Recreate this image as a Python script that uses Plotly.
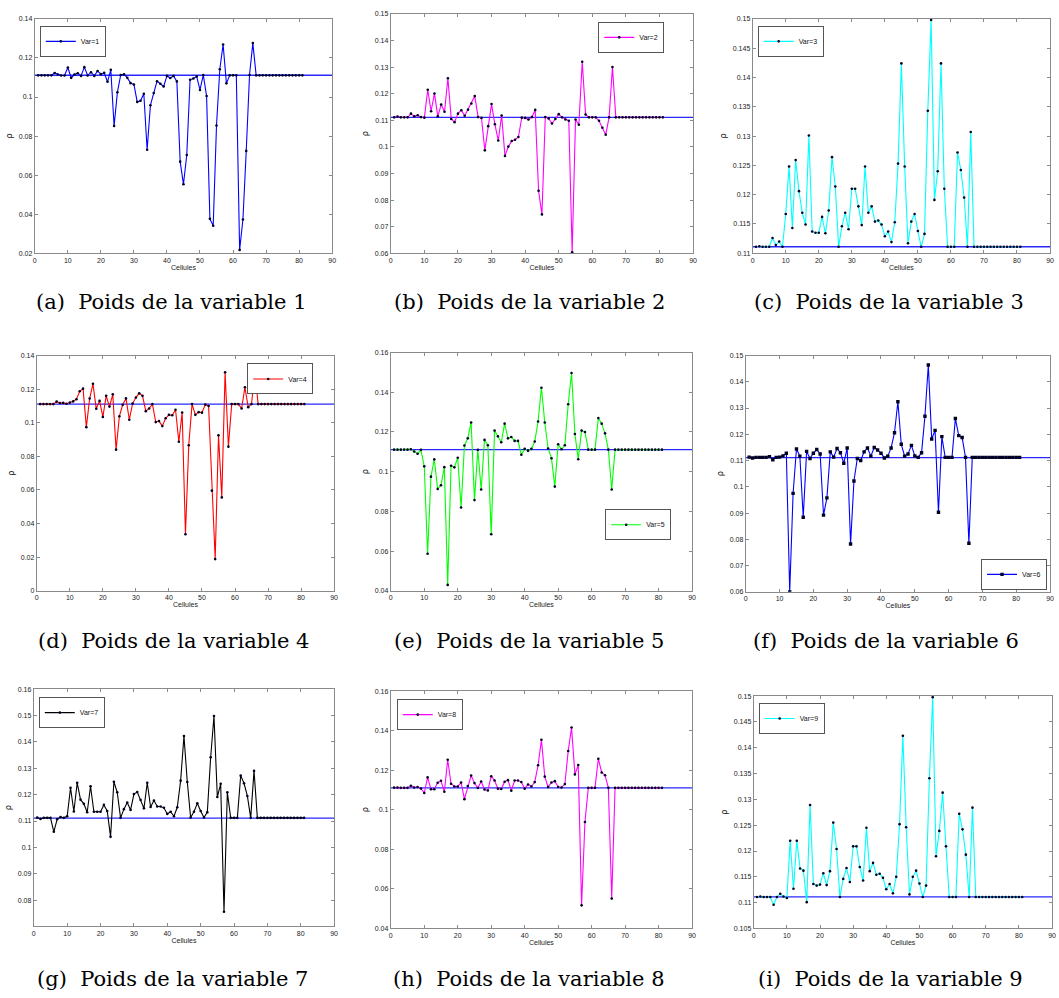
import plotly.graph_objects as go

W, H = 1059, 998

cells = list(range(1, 82))

var1 = [
    0.1111, 0.1111, 0.1111, 0.1111, 0.1111, 0.1123, 0.1115, 0.1110, 0.1110, 0.1151,
    0.1098, 0.1115, 0.1122, 0.1108, 0.1153, 0.1110, 0.1127, 0.1108, 0.1133, 0.1117,
    0.1124, 0.1078, 0.1139, 0.0852, 0.1024, 0.1113, 0.1116, 0.1098, 0.1071, 0.1064,
    0.0975, 0.0981, 0.1017, 0.0730, 0.0958, 0.1020, 0.1081, 0.1068, 0.1054, 0.1108,
    0.1097, 0.1108, 0.1080, 0.0669, 0.0553, 0.0703, 0.1088, 0.1095, 0.1105, 0.1036,
    0.1113, 0.1005, 0.0376, 0.0341, 0.0854, 0.1142, 0.1269, 0.1070, 0.1111, 0.1111,
    0.1111, 0.0217, 0.0373, 0.0724, 0.1113, 0.1276, 0.1111, 0.1111, 0.1111, 0.1111,
    0.1111, 0.1111, 0.1111, 0.1111, 0.1111, 0.1111, 0.1111, 0.1111, 0.1111, 0.1111,
    0.1111]
var2 = [
    0.1111, 0.1114, 0.1111, 0.1111, 0.1111, 0.1125, 0.1115, 0.1119, 0.1112, 0.1110,
    0.1215, 0.1134, 0.1201, 0.1115, 0.1159, 0.1132, 0.1258, 0.1105, 0.1093, 0.1125,
    0.1138, 0.1117, 0.1140, 0.1163, 0.1191, 0.1112, 0.1109, 0.0987, 0.1078, 0.1161,
    0.1085, 0.1024, 0.1118, 0.0966, 0.1001, 0.1022, 0.1027, 0.1037, 0.1110, 0.1109,
    0.1103, 0.1112, 0.1139, 0.0835, 0.0746, 0.1112, 0.1107, 0.1088, 0.1105, 0.1123,
    0.1111, 0.1103, 0.1098, 0.0604, 0.1103, 0.1083, 0.1320, 0.1122, 0.1111, 0.1111,
    0.1111, 0.1098, 0.1072, 0.1046, 0.1111, 0.1300, 0.1111, 0.1111, 0.1111, 0.1111,
    0.1111, 0.1111, 0.1111, 0.1111, 0.1111, 0.1111, 0.1111, 0.1111, 0.1111, 0.1111,
    0.1111]
var3 = [
    0.1111, 0.1112, 0.1111, 0.1111, 0.1111, 0.1126, 0.1114, 0.1120, 0.1111, 0.1167,
    0.1248, 0.1143, 0.1259, 0.1206, 0.1169, 0.1149, 0.1301, 0.1137, 0.1135, 0.1135,
    0.1162, 0.1134, 0.1173, 0.1264, 0.1214, 0.1111, 0.1146, 0.1169, 0.1141, 0.1210,
    0.1210, 0.1180, 0.1148, 0.1248, 0.1169, 0.1180, 0.1154, 0.1156, 0.1149, 0.1129,
    0.1137, 0.1119, 0.1153, 0.1253, 0.1424, 0.1248, 0.1117, 0.1154, 0.1167, 0.1138,
    0.1111, 0.1133, 0.1343, 0.1498, 0.1191, 0.1240, 0.1424, 0.1210, 0.1111, 0.1111,
    0.1111, 0.1272, 0.1242, 0.1195, 0.1111, 0.1307, 0.1111, 0.1111, 0.1111, 0.1111,
    0.1111, 0.1111, 0.1111, 0.1111, 0.1111, 0.1111, 0.1111, 0.1111, 0.1111, 0.1111,
    0.1111]
var4 = [
    0.1111, 0.1111, 0.1111, 0.1111, 0.1111, 0.1126, 0.1117, 0.1118, 0.1113, 0.1120,
    0.1127, 0.1140, 0.1187, 0.1203, 0.0974, 0.1144, 0.1232, 0.1083, 0.1130, 0.1035,
    0.1160, 0.1096, 0.1169, 0.0840, 0.1039, 0.1107, 0.1145, 0.1018, 0.1114, 0.1150,
    0.1175, 0.1160, 0.1069, 0.1085, 0.1111, 0.1004, 0.1010, 0.0980, 0.1027, 0.1047,
    0.1045, 0.1077, 0.0887, 0.1061, 0.0337, 0.0866, 0.1111, 0.1047, 0.1063, 0.1060,
    0.1108, 0.1100, 0.0596, 0.0189, 0.0925, 0.0556, 0.1300, 0.0858, 0.1111, 0.1111,
    0.1111, 0.1085, 0.1211, 0.1093, 0.1111, 0.1303, 0.1111, 0.1111, 0.1111, 0.1111,
    0.1111, 0.1111, 0.1111, 0.1111, 0.1111, 0.1111, 0.1111, 0.1111, 0.1111, 0.1111,
    0.1111]
var5 = [
    0.1111, 0.1111, 0.1111, 0.1111, 0.1111, 0.1113, 0.1102, 0.1090, 0.1110, 0.1027,
    0.0587, 0.0975, 0.1062, 0.0913, 0.0932, 0.1023, 0.0430, 0.1030, 0.1022, 0.1070,
    0.0820, 0.1132, 0.1168, 0.1248, 0.0857, 0.1110, 0.0910, 0.1160, 0.1133, 0.0685,
    0.1207, 0.1178, 0.1148, 0.1242, 0.1168, 0.1175, 0.1155, 0.1155, 0.1085, 0.1115,
    0.1105, 0.1115, 0.1152, 0.1253, 0.1423, 0.1248, 0.1117, 0.1068, 0.0925, 0.1138,
    0.1113, 0.1133, 0.1340, 0.1497, 0.1190, 0.1063, 0.1207, 0.1200, 0.1111, 0.1111,
    0.1111, 0.1270, 0.1242, 0.1193, 0.1111, 0.0910, 0.1111, 0.1111, 0.1111, 0.1111,
    0.1111, 0.1111, 0.1111, 0.1111, 0.1111, 0.1111, 0.1111, 0.1111, 0.1111, 0.1111,
    0.1111]
var6 = [
    0.1113, 0.1110, 0.1112, 0.1112, 0.1112, 0.1112, 0.1115, 0.1103, 0.1112, 0.1113,
    0.1118, 0.1128, 0.0600, 0.0975, 0.1144, 0.1117, 0.0884, 0.1135, 0.1108, 0.1128,
    0.1142, 0.1125, 0.0892, 0.0958, 0.1133, 0.1113, 0.1146, 0.1130, 0.1090, 0.1148,
    0.0782, 0.1022, 0.1108, 0.1100, 0.1133, 0.1148, 0.1117, 0.1150, 0.1140, 0.1128,
    0.1110, 0.1117, 0.1148, 0.1206, 0.1324, 0.1162, 0.1117, 0.1125, 0.1158, 0.1118,
    0.1112, 0.1130, 0.1269, 0.1464, 0.1182, 0.1215, 0.0903, 0.1191, 0.1112, 0.1112,
    0.1112, 0.1260, 0.1195, 0.1188, 0.1112, 0.0785, 0.1112, 0.1112, 0.1112, 0.1112,
    0.1112, 0.1112, 0.1112, 0.1112, 0.1112, 0.1112, 0.1112, 0.1112, 0.1112, 0.1112,
    0.1112]
var7 = [
    0.1113, 0.1108, 0.1112, 0.1112, 0.1112, 0.1059, 0.1107, 0.1115, 0.1112, 0.1118,
    0.1226, 0.1136, 0.1245, 0.1181, 0.1165, 0.1133, 0.1232, 0.1135, 0.1135, 0.1135,
    0.1161, 0.1138, 0.1040, 0.1249, 0.1209, 0.1112, 0.1145, 0.1170, 0.1142, 0.1202,
    0.1210, 0.1180, 0.1148, 0.1245, 0.1153, 0.1178, 0.1155, 0.1155, 0.1150, 0.1127,
    0.1135, 0.1118, 0.1152, 0.1253, 0.1422, 0.1248, 0.1113, 0.1135, 0.1167, 0.1138,
    0.1113, 0.1133, 0.1342, 0.1498, 0.1191, 0.1241, 0.0756, 0.1209, 0.1112, 0.1112,
    0.1112, 0.1272, 0.1243, 0.1195, 0.1112, 0.1290, 0.1112, 0.1112, 0.1112, 0.1112,
    0.1112, 0.1112, 0.1112, 0.1112, 0.1112, 0.1112, 0.1112, 0.1112, 0.1112, 0.1112,
    0.1112]
var8 = [
    0.1112, 0.1113, 0.1111, 0.1111, 0.1111, 0.1122, 0.1113, 0.1115, 0.1108, 0.1085,
    0.1164, 0.1104, 0.1104, 0.1137, 0.1147, 0.1091, 0.1253, 0.1132, 0.1118, 0.1118,
    0.1138, 0.1054, 0.1120, 0.1173, 0.1135, 0.1110, 0.1143, 0.1103, 0.1098, 0.1170,
    0.1148, 0.1107, 0.1105, 0.1142, 0.1150, 0.1097, 0.1148, 0.1148, 0.1140, 0.1107,
    0.1128, 0.1118, 0.1140, 0.1225, 0.1354, 0.1168, 0.1115, 0.1138, 0.1145, 0.1115,
    0.1113, 0.1130, 0.1297, 0.1416, 0.1179, 0.1226, 0.0517, 0.0938, 0.1111, 0.1111,
    0.1111, 0.1258, 0.1189, 0.1175, 0.1111, 0.0551, 0.1111, 0.1111, 0.1111, 0.1111,
    0.1111, 0.1111, 0.1111, 0.1111, 0.1111, 0.1111, 0.1111, 0.1111, 0.1111, 0.1111,
    0.1111]
var9 = [
    0.1111, 0.1112, 0.1111, 0.1111, 0.1111, 0.1096, 0.1111, 0.1117, 0.1112, 0.1109,
    0.1220, 0.1127, 0.1220, 0.1166, 0.1162, 0.1101, 0.1289, 0.1136, 0.1133, 0.1135,
    0.1157, 0.1134, 0.1161, 0.1255, 0.1204, 0.1111, 0.1146, 0.1167, 0.1140, 0.1209,
    0.1209, 0.1169, 0.1143, 0.1245, 0.1161, 0.1177, 0.1154, 0.1156, 0.1148, 0.1126,
    0.1136, 0.1118, 0.1150, 0.1252, 0.1423, 0.1246, 0.1116, 0.1150, 0.1162, 0.1137,
    0.1111, 0.1133, 0.1341, 0.1498, 0.1190, 0.1239, 0.1313, 0.1209, 0.1111, 0.1111,
    0.1111, 0.1272, 0.1242, 0.1193, 0.1111, 0.1284, 0.1111, 0.1111, 0.1111, 0.1111,
    0.1111, 0.1111, 0.1111, 0.1111, 0.1111, 0.1111, 0.1111, 0.1111, 0.1111, 0.1111,
    0.1111]

series = [var1, var2, var3, var4, var5, var6, var7, var8, var9]
legend_names = ["Var=1", "Var=2", "Var=3", "Var=4", "Var=5", "Var=6", "Var=7", "Var=8", "Var=9"]
captions = ["(a)  Poids de la variable 1", "(b)  Poids de la variable 2", "(c)  Poids de la variable 3",
            "(d)  Poids de la variable 4", "(e)  Poids de la variable 5", "(f)  Poids de la variable 6",
            "(g)  Poids de la variable 7", "(h)  Poids de la variable 8", "(i)  Poids de la variable 9"]
uniform_level = 1 / 9
x_range = [0, 90]
x_ticks = [0, 10, 20, 30, 40, 50, 60, 70, 80, 90]
y_ranges = [[0.02, 0.14], [0.06, 0.15], [0.11, 0.15],
            [0.0, 0.14], [0.04, 0.16], [0.06, 0.15],
            [0.07, 0.16], [0.04, 0.16], [0.105, 0.15]]
y_ticks = [
    [0.02, 0.04, 0.06, 0.08, 0.1, 0.12, 0.14],
    [0.06, 0.07, 0.08, 0.09, 0.1, 0.11, 0.12, 0.13, 0.14, 0.15],
    [0.11, 0.115, 0.12, 0.125, 0.13, 0.135, 0.14, 0.145, 0.15],
    [0, 0.02, 0.04, 0.06, 0.08, 0.1, 0.12, 0.14],
    [0.04, 0.06, 0.08, 0.1, 0.12, 0.14, 0.16],
    [0.06, 0.07, 0.08, 0.09, 0.1, 0.11, 0.12, 0.13, 0.14, 0.15],
    [0.08, 0.09, 0.1, 0.11, 0.12, 0.13, 0.14, 0.15, 0.16],
    [0.04, 0.06, 0.08, 0.1, 0.12, 0.14, 0.16],
    [0.105, 0.11, 0.115, 0.12, 0.125, 0.13, 0.135, 0.14, 0.145, 0.15],
]

# ---- styles / layout (pixel boxes of each axes: left, right, top, bottom) ----
colors = ["#0000ff", "#ff00ff", "#00ffff", "#ff0000", "#00ff00", "#0000ff", "#000000", "#ff00ff", "#00ffff"]
marker_syms = ["circle", "circle", "circle", "circle", "circle", "square", "circle", "circle", "circle"]
marker_sizes = [2.6, 2.6, 2.6, 2.6, 2.6, 3.4, 2.6, 2.6, 2.6]
boxes = [(33, 332, 15, 251), (391, 695, 10, 251), (755, 1054, 15, 251),
         (35, 334, 354, 591), (391, 694, 351, 591), (748, 1054, 354, 592),
         (32, 334, 690, 929), (391, 694, 692, 931), (756, 1056, 697, 931)]
legend_pos = [(38, 22, "left", "top"), (666, 18, "right", "top"), (760, 22, "left", "top"),
              (313, 362, "right", "top"), (673, 540, "right", "bottom"), (1051, 590, "right", "bottom"),
              (37, 698, "left", "top"), (397, 700, "left", "top"), (761, 704, "left", "top")]
caption_y = [300, 300, 300, 642, 642, 642, 982, 982, 982]

def px(x):
    return x / W

def py(y):
    return 1 - y / H

fig = go.Figure()
layout = dict(width=W, height=H, margin=dict(l=0, r=0, t=0, b=0),
              paper_bgcolor="white", plot_bgcolor="white", annotations=[])

tick_font = dict(family="Liberation Sans, Arial, sans-serif", size=7, color="#222222")
for i in range(9):
    n = i + 1
    xa = "x" if n == 1 else f"x{n}"
    ya = "y" if n == 1 else f"y{n}"
    leg = "legend" if n == 1 else f"legend{n}"
    l, r, t, b = boxes[i]
    # reference level line
    fig.add_trace(go.Scatter(x=x_range, y=[uniform_level, uniform_level], mode="lines",
                             line=dict(color="#2828ff", width=1.4), showlegend=False,
                             xaxis=xa, yaxis=ya, hoverinfo="skip"))
    fig.add_trace(go.Scatter(x=cells, y=series[i], mode="lines+markers", name=legend_names[i],
                             line=dict(color=colors[i], width=1.1),
                             marker=dict(color="#000022", size=marker_sizes[i], symbol=marker_syms[i]),
                             xaxis=xa, yaxis=ya, legend=leg, showlegend=True))
    axis_common = dict(showline=True, linecolor="#8a8a8a", linewidth=1, mirror="ticks",
                       ticks="inside", ticklen=3, tickcolor="#8a8a8a", showgrid=False,
                       zeroline=False, tickfont=tick_font)
    layout["xaxis" if n == 1 else f"xaxis{n}"] = dict(
        domain=[px(l), px(r)], anchor=ya, range=x_range, tickvals=x_ticks,
        ticktext=[str(v) for v in x_ticks],
        title=dict(text="Cellules", font=dict(family="Liberation Sans, Arial, sans-serif", size=7, color="#222222"), standoff=1),
        **axis_common)
    layout["yaxis" if n == 1 else f"yaxis{n}"] = dict(
        domain=[py(b), py(t)], anchor=xa, range=y_ranges[i], tickvals=y_ticks[i],
        ticktext=[f"{v:g}" for v in y_ticks[i]],
        title=dict(text="ρ", font=dict(family="DejaVu Sans, sans-serif", size=8, color="#222222"), standoff=4),
        **axis_common)
    lx, ly, xan, yan = legend_pos[i]
    layout[leg] = dict(x=px(lx), y=py(ly), xanchor=xan, yanchor=yan, xref="paper", yref="paper",
                       bgcolor="white", bordercolor="#555555", borderwidth=1,
                       font=dict(family="Liberation Sans, Arial, sans-serif", size=7, color="#111111"),
                       itemwidth=30, tracegroupgap=0)
    layout["annotations"].append(dict(
        text=captions[i].replace("  ", "\u00a0 "), x=px((l + r) / 2 - 12),
        y=py(caption_y[i]), xref="paper", yref="paper", xanchor="center", yanchor="middle",
        showarrow=False, font=dict(family="DejaVu Serif, serif", size=21, color="#000000")))

fig.update_layout(**layout)
fig.write_html("out.html")
